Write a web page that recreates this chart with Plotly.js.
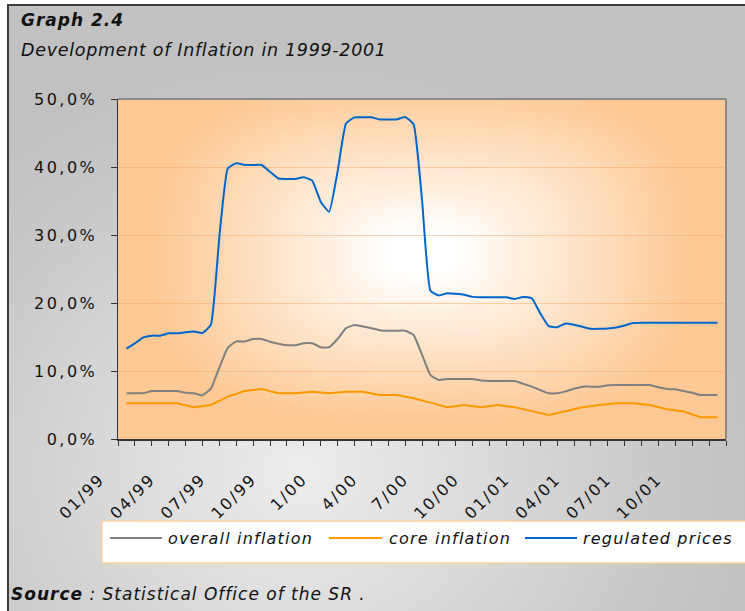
<!DOCTYPE html>
<html>
<head>
<meta charset="utf-8">
<script src="https://cdn.plot.ly/plotly-3.0.1.min.js"></script>
<style>
html,body{margin:0;padding:0;background:#ffffff;overflow:hidden;}
#frame{position:absolute;left:7px;top:4px;width:740px;height:609px;
  border-left:2px solid #3c3c3c;border-top:2px solid #3c3c3c;
  background:radial-gradient(ellipse 470px 430px at 293px 466px,#ededed 0%,#dadada 40%,#c9c9c9 75%,#c1c1c1 100%);}
#chart{position:absolute;left:0;top:0;width:745px;height:611px;}
.ytick text{letter-spacing:2.5px;}
.xtick text{letter-spacing:2px;}
.annotation[data-index="0"] text{letter-spacing:1px;}
.annotation[data-index="1"] text{letter-spacing:0.7px;}
.annotation[data-index="2"] text{letter-spacing:1px;}
.annotation[data-index="3"] text,.annotation[data-index="4"] text,.annotation[data-index="5"] text{letter-spacing:1.2px;}
</style>
</head>
<body>
<div id="frame"></div>
<div id="chart"></div>
<script>
// ---------------- data ----------------
const tickLabels = ['01/99','04/99','07/99','10/99','1/00','4/00','7/00','10/00','01/01','04/01','07/01','10/01'];
const yTicks = [0, 10, 20, 30, 40, 50];
const seriesNames = ['overall inflation','core inflation','regulated prices'];
const seriesColors = ['#808080','#FF9900','#0066CC'];

// overall inflation, half-month steps (Jan 99 .. Dec 01), in %
const overall = [6.72,6.72,6.72,7.06,7.06,7.06,7.06,6.8,6.72,6.45,
  7.4,10.5,13.4,14.35,14.35,14.7,14.7,14.3,14.0,13.8,
  13.8,14.07,14.07,13.5,13.5,14.7,16.3,16.76,16.55,16.3,
  16.0,15.93,15.93,15.93,15.3,12.4,9.4,8.68,8.82,8.82,
  8.82,8.82,8.6,8.53,8.53,8.53,8.53,8.1,7.7,7.2,
  6.72,6.72,7.0,7.4,7.7,7.7,7.7,7.9,7.94,7.94,
  7.94,7.94,7.94,7.6,7.35,7.3,7.06,6.8,6.47,6.47,6.47];

// regulated prices, half-month steps, in %
const regulated = [13.3,14.07,14.95,15.2,15.2,15.54,15.54,15.7,15.8,15.6,
  16.8,29.7,39.8,40.55,40.3,40.3,40.3,39.3,38.3,38.25,
  38.25,38.5,38.0,34.9,33.4,39.3,46.4,47.3,47.3,47.3,
  47.0,47.0,47.0,47.35,46.3,35.2,21.8,21.1,21.45,21.35,
  21.2,20.9,20.85,20.85,20.85,20.85,20.6,20.9,20.7,18.5,
  16.6,16.45,17.0,16.8,16.5,16.2,16.2,16.25,16.4,16.7,
  17.05,17.1,17.1,17.1,17.1,17.1,17.1,17.1,17.1,17.1,17.1];

// core inflation, monthly, in %
const core = [5.25,5.25,5.25,5.25,4.66,5.0,6.23,7.06,7.35,6.72,
  6.72,6.96,6.72,6.96,6.96,6.47,6.47,6.0,5.35,4.66,
  5.0,4.66,5.0,4.66,4.1,3.53,4.07,4.66,5.0,5.25,
  5.25,5.0,4.37,4.04,3.19,3.19];

// x positions (months from start of Jan 1999)
const halfPos = []; for (let i = 1; i <= overall.length; i++) halfPos.push(i * 0.5);
const monthPos = []; for (let i = 0; i < core.length; i++) monthPos.push(i + 0.5);
const tickPos = []; const tickText = [];
for (let i = 0; i <= 36; i++) { tickPos.push(i); tickText.push(i % 3 === 0 && tickLabels[i/3] ? tickLabels[i/3] : ''); }
const yTickText = yTicks.map(v => v.toFixed(1).replace('.', ',') + '%');

// ---------------- geometry helpers ----------------
const L = 118, T = 99, W = 608, H = 340;
const px = p => (p - L) / W;
const py = p => (T + H - p) / H;

// plot-area gradient (white centre fading to peach)
function gradientURL(w, h) {
  const c = document.createElement('canvas'); c.width = w; c.height = h;
  const ctx = c.getContext('2d'); const img = ctx.createImageData(w, h);
  const edge = [253, 200, 147];
  const cx = w * 0.5, cy = h * 0.45;
  for (let y = 0; y < h; y++) for (let x = 0; x < w; x++) {
    const u = Math.abs((x - cx) / (w * 0.5)), v = Math.abs((y - cy) / (h * 0.56));
    const t = Math.pow(Math.pow(u, 3) + Math.pow(v, 3), 1/3);
    let f = (t - 0.1) / 0.8; f = Math.max(0, Math.min(1, f));
    const k = (y * w + x) * 4;
    img.data[k]   = 255 + (edge[0] - 255) * f;
    img.data[k+1] = 255 + (edge[1] - 255) * f;
    img.data[k+2] = 255 + (edge[2] - 255) * f;
    img.data[k+3] = 255;
  }
  ctx.putImageData(img, 0, 0);
  return c.toDataURL('image/png');
}

const FONT = 'DejaVu Sans, Verdana, sans-serif';

const traces = [
  {x: halfPos, y: overall, name: seriesNames[0], type: 'scatter', mode: 'lines',
   line: {color: seriesColors[0], width: 2, shape: 'spline', smoothing: 0.4}, showlegend: false},
  {x: monthPos, y: core, name: seriesNames[1], type: 'scatter', mode: 'lines',
   line: {color: seriesColors[1], width: 2}, showlegend: false},
  {x: halfPos, y: regulated, name: seriesNames[2], type: 'scatter', mode: 'lines',
   line: {color: seriesColors[2], width: 2, shape: 'spline', smoothing: 0.4}, showlegend: false}
];

// custom legend geometry (pixels)
const legLine = [[110,162],[329,382],[525,577]];
const legText = [166, 387, 581];
const legY = 538;

const annotations = [
  {text: '<b><i>Graph 2.4</i></b>', x: px(19), y: py(20), font: {size: 17}},
  {text: '<i>Development of Inflation in 1999-2001</i>', x: px(19), y: py(50), font: {size: 17.5}},
  {text: '<b><i>Source</i></b><i> : Statistical Office of the SR .</i>', x: px(9), y: py(594), font: {size: 17}}
];
seriesNames.forEach((n, i) => annotations.push({text: '<i>' + n + '</i>', x: px(legText[i]), y: py(legY), font: {size: 16}}));
annotations.forEach(a => { a.xref = 'paper'; a.yref = 'paper'; a.xanchor = 'left'; a.yanchor = 'middle'; a.align = 'left';
  a.showarrow = false; a.font = Object.assign({family: FONT, color: '#111111'}, a.font); });

const shapes = [
  {type: 'rect', xref: 'paper', yref: 'paper', x0: px(102), x1: px(770), y0: py(563), y1: py(521),
   fillcolor: '#ffffff', line: {color: '#fbcf9f', width: 1.5}},
  {type: 'line', xref: 'paper', yref: 'paper', x0: 0, x1: 1, y0: 1, y1: 1, line: {color: '#8a8a8a', width: 2}},
  {type: 'line', xref: 'paper', yref: 'paper', x0: 1, x1: 1, y0: 0, y1: 1, line: {color: '#8a8a8a', width: 2}}
];
legLine.forEach((s, i) => shapes.push({type: 'line', xref: 'paper', yref: 'paper',
  x0: px(s[0]), x1: px(s[1]), y0: py(legY), y1: py(legY), line: {color: seriesColors[i], width: 2}}));

const layout = {
  width: 745, height: 611,
  margin: {l: L, r: 745 - L - W, t: T, b: 611 - T - H, pad: 0},
  paper_bgcolor: 'rgba(0,0,0,0)', plot_bgcolor: 'rgba(0,0,0,0)',
  font: {family: FONT, color: '#111111', size: 16},
  xaxis: {range: [0, 36], tickmode: 'array', tickvals: tickPos, ticktext: tickText,
    ticks: 'outside', ticklen: 5, tickwidth: 1, tickcolor: '#333333',
    showline: true, linecolor: '#333333', linewidth: 1.5, showgrid: false, zeroline: false,
    tickangle: -45, tickfont: {size: 16, family: FONT, color: '#111111'},
    ticklabelstandoff: 18, ticklabelshift: -18, fixedrange: true},
  yaxis: {range: [0, 50], tickmode: 'array', tickvals: yTicks, ticktext: yTickText,
    ticks: 'outside', ticklen: 6, tickwidth: 1, tickcolor: '#333333',
    showline: true, linecolor: '#333333', linewidth: 1.5,
    showgrid: true, gridcolor: 'rgba(243,165,95,0.45)', gridwidth: 1, zeroline: false,
    tickfont: {size: 16, family: FONT, color: '#111111'}, ticklabelstandoff: 10, fixedrange: true},
  images: [{source: gradientURL(W, H), xref: 'paper', yref: 'paper', x: 0, y: 1, sizex: 1, sizey: 1,
    xanchor: 'left', yanchor: 'top', sizing: 'stretch', layer: 'below'}],
  shapes: shapes,
  annotations: annotations
};

Plotly.newPlot('chart', traces, layout, {displayModeBar: false, staticPlot: true});
</script>
</body>
</html>
